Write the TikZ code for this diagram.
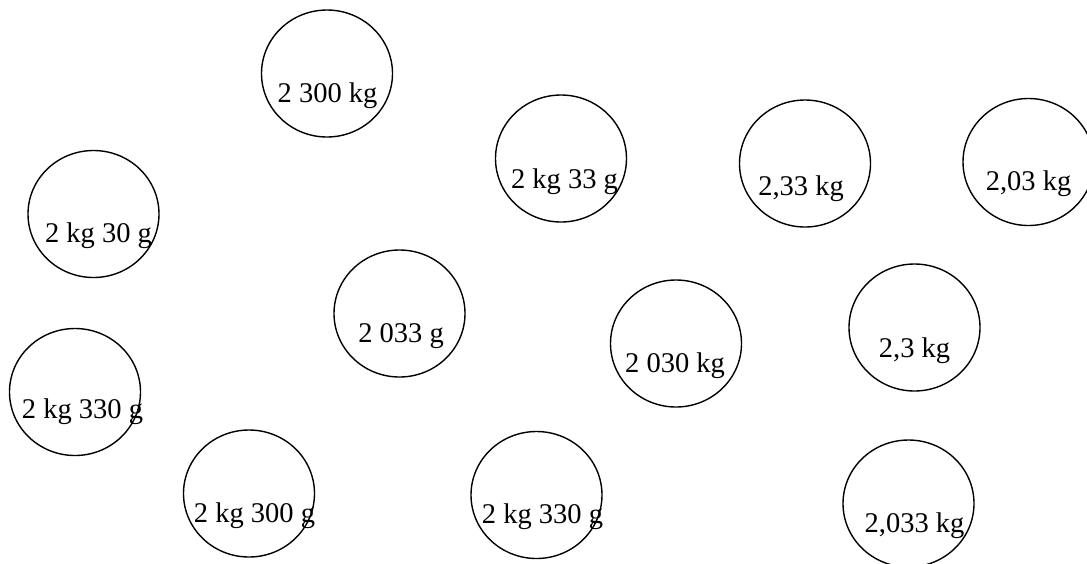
\documentclass[tikz,border=0pt]{standalone}
\usepackage{fontspec}
\setmainfont{Liberation Serif}
\usetikzlibrary{shapes.geometric}
\tikzset{
  ball/.style={draw=black, line width=1.4pt, ellipse, minimum width=131pt, minimum height=127pt, inner sep=0pt},
  wt/.style={anchor=base, inner sep=0pt, font=\fontsize{28.5}{33}\selectfont}
}
\begin{document}
\begin{tikzpicture}[x=1pt,y=-1pt]
\useasboundingbox (0,0) rectangle (1087,563);
\clip (0,0) rectangle (1087,563);
\node[ball] (c1) at (327,73.5) {};
\node[ball] (c2) at (561,158.5) {};
\node[ball] (c3) at (805,163.5) {};
\node[ball] (c4) at (1028.5,162) {};
\node[ball] (c5) at (93.5,214) {};
\node[ball] (c6) at (399.5,313.5) {};
\node[ball] (c7) at (676,343.5) {};
\node[ball] (c8) at (914.5,327.5) {};
\node[ball] (c9) at (75,392) {};
\node[ball] (c10) at (249,493.5) {};
\node[ball] (c11) at (536.5,495) {};
\node[ball] (c12) at (908.5,503.5) {};
\node[wt] (t1) at (327.5,102) {2 300 kg};
\node[wt] (t2) at (564.5,188) {2 kg 33 g};
\node[wt] (t3) at (801,195) {2,33 kg};
\node[wt] (t4) at (1028.5,190) {2,03 kg};
\node[wt] (t5) at (98.5,242) {2 kg 30 g};
\node[wt] (t6) at (401,342) {2 033 g};
\node[wt] (t7) at (675,372) {2 030 kg};
\node[wt] (t8) at (914.5,357) {2,3 kg};
\node[wt] (t9) at (82.5,418) {2 kg 330 g};
\node[wt] (t10) at (254.5,522) {2 kg 300 g};
\node[wt] (t11) at (542.5,523) {2 kg 330 g};
\node[wt] (t12) at (914.5,532) {2,033 kg};
\end{tikzpicture}
\end{document}
